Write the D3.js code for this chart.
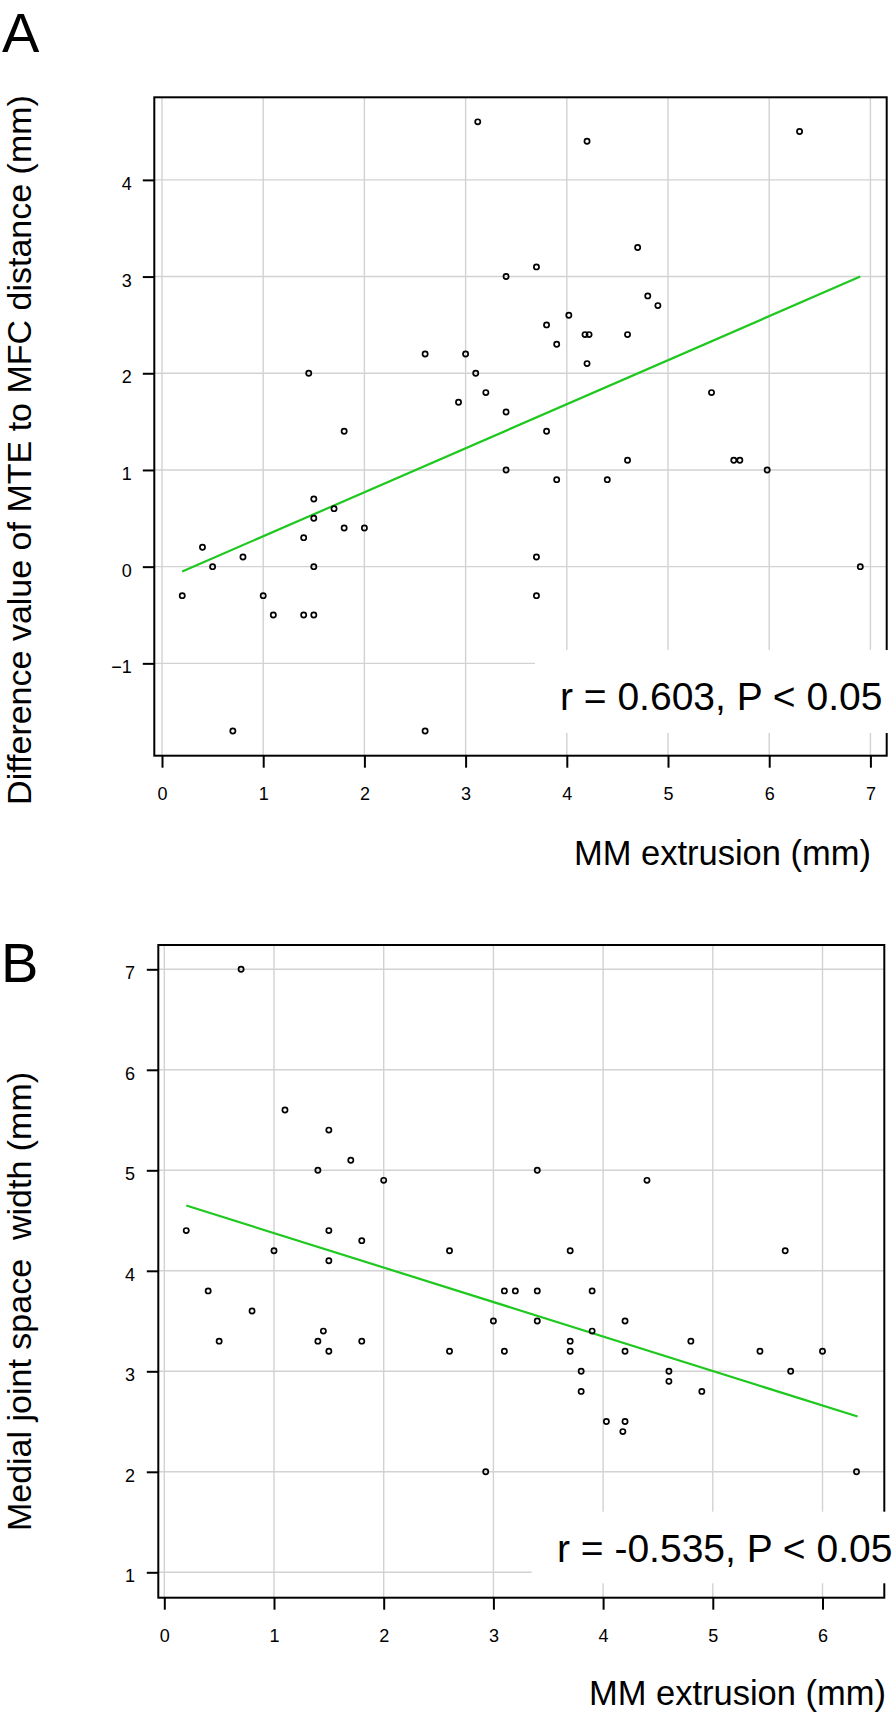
<!DOCTYPE html>
<html>
<head>
<meta charset="utf-8">
<script src="https://cdn.jsdelivr.net/npm/d3@7"></script>
<style>
  html, body { margin: 0; padding: 0; background: #fff; }
  svg { display: block; font-family: "Liberation Sans", Arial, Helvetica, sans-serif; }
</style>
</head>
<body>
<svg id="chart" width="894" height="1713"></svg>
<script>
// ---------------- Data ----------------
// Panel A: MM extrusion vs difference value of MTE to MFC distance
const extrusionA = [0.2, 0.4, 0.5, 0.8, 0.7, 1.0, 1.1, 1.4, 1.4, 1.5, 1.5, 1.5, 1.5, 1.7, 1.8, 1.8, 2.0, 2.6,
  1.45, 2.6,
  3.12, 4.2, 6.3, 4.7, 3.7, 3.4, 4.8, 4.9, 4.02, 3.8, 4.18, 4.22, 4.6, 3.9, 4.2, 3.0, 3.1, 3.2, 2.93, 3.4, 5.43,
  3.8, 3.4, 3.9, 4.4, 4.6, 5.65, 5.71, 5.98, 3.7, 3.7, 6.9];
const diffA = [-0.3, 0.2, 0.0, 0.1, -1.7, -0.3, -0.5, 0.3, -0.5, -0.5, 0.0, 0.5, 0.7, 0.6, 0.4, 1.4, 0.4, -1.7,
  2.0, 2.2,
  4.6, 4.4, 4.5, 3.3, 3.1, 3.0, 2.8, 2.7, 2.6, 2.5, 2.4, 2.4, 2.4, 2.3, 2.1, 2.2, 2.0, 1.8, 1.7, 1.6, 1.8,
  1.4, 1.0, 0.9, 0.9, 1.1, 1.1, 1.1, 1.0, 0.1, -0.3, 0.0];
const fitAx = [0.2, 6.9];
const fitAy = [-0.05, 3.0];
const xTicksA = [0, 1, 2, 3, 4, 5, 6, 7];
const yTicksA = [-1, 0, 1, 2, 3, 4];

// Panel B: MM extrusion vs medial joint space width
const extrusionB = [0.7, 1.1, 1.5, 1.4, 1.7, 2.0, 0.2, 1.0, 1.5, 1.8, 1.5, 0.4, 0.8, 2.6,
  0.5, 1.4, 1.45, 1.5, 1.8, 2.6,
  3.4, 4.4, 3.7, 5.66, 3.1, 3.2, 3.4, 3.9,
  3.0, 3.4, 3.9, 4.2, 3.1, 3.7, 3.7, 3.8, 3.8, 4.2, 4.6, 4.6, 4.8, 4.9, 4.03, 4.2, 4.18, 5.43, 6.0, 5.71, 2.93, 6.31];
const widthB = [7.0, 5.6, 5.4, 5.0, 5.1, 4.9, 4.4, 4.2, 4.4, 4.3, 4.1, 3.8, 3.6, 4.2,
  3.3, 3.3, 3.4, 3.2, 3.3, 3.2,
  5.0, 4.9, 4.2, 4.2, 3.8, 3.8, 3.8, 3.8,
  3.5, 3.5, 3.4, 3.5, 3.2, 3.3, 3.2, 3.0, 2.8, 3.2, 3.0, 2.9, 3.3, 2.8, 2.5, 2.5, 2.4, 3.2, 3.2, 3.0, 2.0, 2.0];
const fitBx = [0.2, 6.32];
const fitBy = [4.65, 2.55];
const xTicksB = [0, 1, 2, 3, 4, 5, 6];
const yTicksB = [1, 2, 3, 4, 5, 6, 7];

const labelA = "A", labelB = "B";
const yTitleA = "Difference value of MTE to MFC distance (mm)";
const yTitleB = "Medial joint space  width (mm)";
const xTitle = "MM extrusion (mm)";
const statA = "r = 0.603, P < 0.05";
const statB = "r = -0.535, P < 0.05";

// ---------------- Drawing ----------------
const svg = d3.select("#chart");
const GRID = "#d2d2d2";
const GREEN = "#1ec81e";

function panel(cfg) {
  const g = svg.append("g");
  const x = d3.scaleLinear().domain(cfg.xDomain).range([cfg.left, cfg.right]);
  const y = d3.scaleLinear().domain(cfg.yDomain).range([cfg.bottom, cfg.top]);

  // grid
  g.append("g").selectAll("line").data(cfg.xTicks).join("line")
    .attr("x1", d => x(d)).attr("x2", d => x(d))
    .attr("y1", cfg.top).attr("y2", cfg.bottom)
    .attr("stroke", GRID).attr("stroke-width", 1.4);
  g.append("g").selectAll("line").data(cfg.yTicks).join("line")
    .attr("x1", cfg.left).attr("x2", cfg.right)
    .attr("y1", d => y(d)).attr("y2", d => y(d))
    .attr("stroke", GRID).attr("stroke-width", 1.4);

  // regression line
  g.append("line")
    .attr("x1", x(cfg.fitX[0])).attr("y1", y(cfg.fitY[0]))
    .attr("x2", x(cfg.fitX[1])).attr("y2", y(cfg.fitY[1]))
    .attr("stroke", GREEN).attr("stroke-width", 2.2);

  // points
  const pts = cfg.xs.map((v, i) => [v, cfg.ys[i]]);
  g.append("g").selectAll("circle").data(pts).join("circle")
    .attr("cx", d => x(d[0])).attr("cy", d => y(d[1])).attr("r", 2.6)
    .attr("fill", "none").attr("stroke", "#000").attr("stroke-width", 1.7);

  // frame
  g.append("rect")
    .attr("x", cfg.left).attr("y", cfg.top)
    .attr("width", cfg.right - cfg.left).attr("height", cfg.bottom - cfg.top)
    .attr("fill", "none").attr("stroke", "#000").attr("stroke-width", 2);

  // axes
  const ax = g.append("g").attr("transform", `translate(0,${cfg.bottom})`)
    .call(d3.axisBottom(x).tickValues(cfg.xTicks).tickSize(12).tickSizeOuter(0).tickFormat(d3.format("d")));
  ax.select(".domain").remove();
  ax.selectAll(".tick line").attr("stroke", "#000").attr("stroke-width", 2);
  ax.selectAll("text").attr("y", 44.3).attr("dy", null)
    .attr("font-size", 18).attr("fill", "#000")
    .style("font-family", "'Liberation Sans', Arial, sans-serif");

  const ay = g.append("g").attr("transform", `translate(${cfg.left},0)`)
    .call(d3.axisLeft(y).tickValues(cfg.yTicks).tickSize(11.5).tickSizeOuter(0).tickFormat(d3.format("d")));
  ay.select(".domain").remove();
  ay.selectAll(".tick line").attr("stroke", "#000").attr("stroke-width", 2);
  ay.selectAll("text").attr("x", cfg.yLabelX).attr("y", 9.5).attr("dy", null)
    .attr("font-size", 18).attr("fill", "#000")
    .style("font-family", "'Liberation Sans', Arial, sans-serif");

  // stat box
  g.append("rect")
    .attr("x", cfg.box[0]).attr("y", cfg.box[1])
    .attr("width", cfg.box[2]).attr("height", cfg.box[3])
    .attr("fill", "#fff");
  g.append("text")
    .attr("x", cfg.statX).attr("y", cfg.statY)
    .attr("font-size", 39).attr("fill", "#000")
    .style("white-space", "pre")
    .text(cfg.stat);

  // titles
  g.append("text")
    .attr("x", cfg.xTitleX).attr("y", cfg.xTitleY)
    .attr("text-anchor", "end").attr("font-size", 34.5).attr("fill", "#000")
    .text(xTitle);
  g.append("text")
    .attr("transform", `translate(${cfg.yTitleX},${cfg.yTitleY}) rotate(-90)`)
    .attr("text-anchor", "middle").attr("font-size", 34).attr("fill", "#000")
    .style("white-space", "pre")
    .text(cfg.yTitle);
  g.append("text")
    .attr("x", cfg.labelPos[0]).attr("y", cfg.labelPos[1])
    .attr("font-size", 56).attr("fill", "#000")
    .text(cfg.label);
}

panel({
  xs: extrusionA, ys: diffA, fitX: fitAx, fitY: fitAy,
  xTicks: xTicksA, yTicks: yTicksA,
  xDomain: [-0.0761, 7.161], yDomain: [-1.955, 4.854],
  left: 154.3, right: 886.7, top: 97.3, bottom: 755.7,
  yLabelX: -22.6,
  box: [535, 650, 360, 83], stat: statA, statX: 560, statY: 710,
  xTitleX: 871, xTitleY: 865,
  yTitle: yTitleA, yTitleX: 31, yTitleY: 450,
  label: labelA, labelPos: [2, 52]
});

panel({
  xs: extrusionB, ys: widthB, fitX: fitBx, fitY: fitBy,
  xTicks: xTicksB, yTicks: yTicksB,
  xDomain: [-0.0547, 6.5634], yDomain: [0.7473, 7.2418],
  left: 158.3, right: 884.3, top: 945, bottom: 1597.7,
  yLabelX: -23.3,
  box: [531.7, 1511.7, 363, 71.6], stat: statB, statX: 557, statY: 1561.7,
  xTitleX: 886, xTitleY: 1705,
  yTitle: yTitleB, yTitleX: 31, yTitleY: 1301.5,
  label: labelB, labelPos: [1, 982]
});
</script>
</body>
</html>
